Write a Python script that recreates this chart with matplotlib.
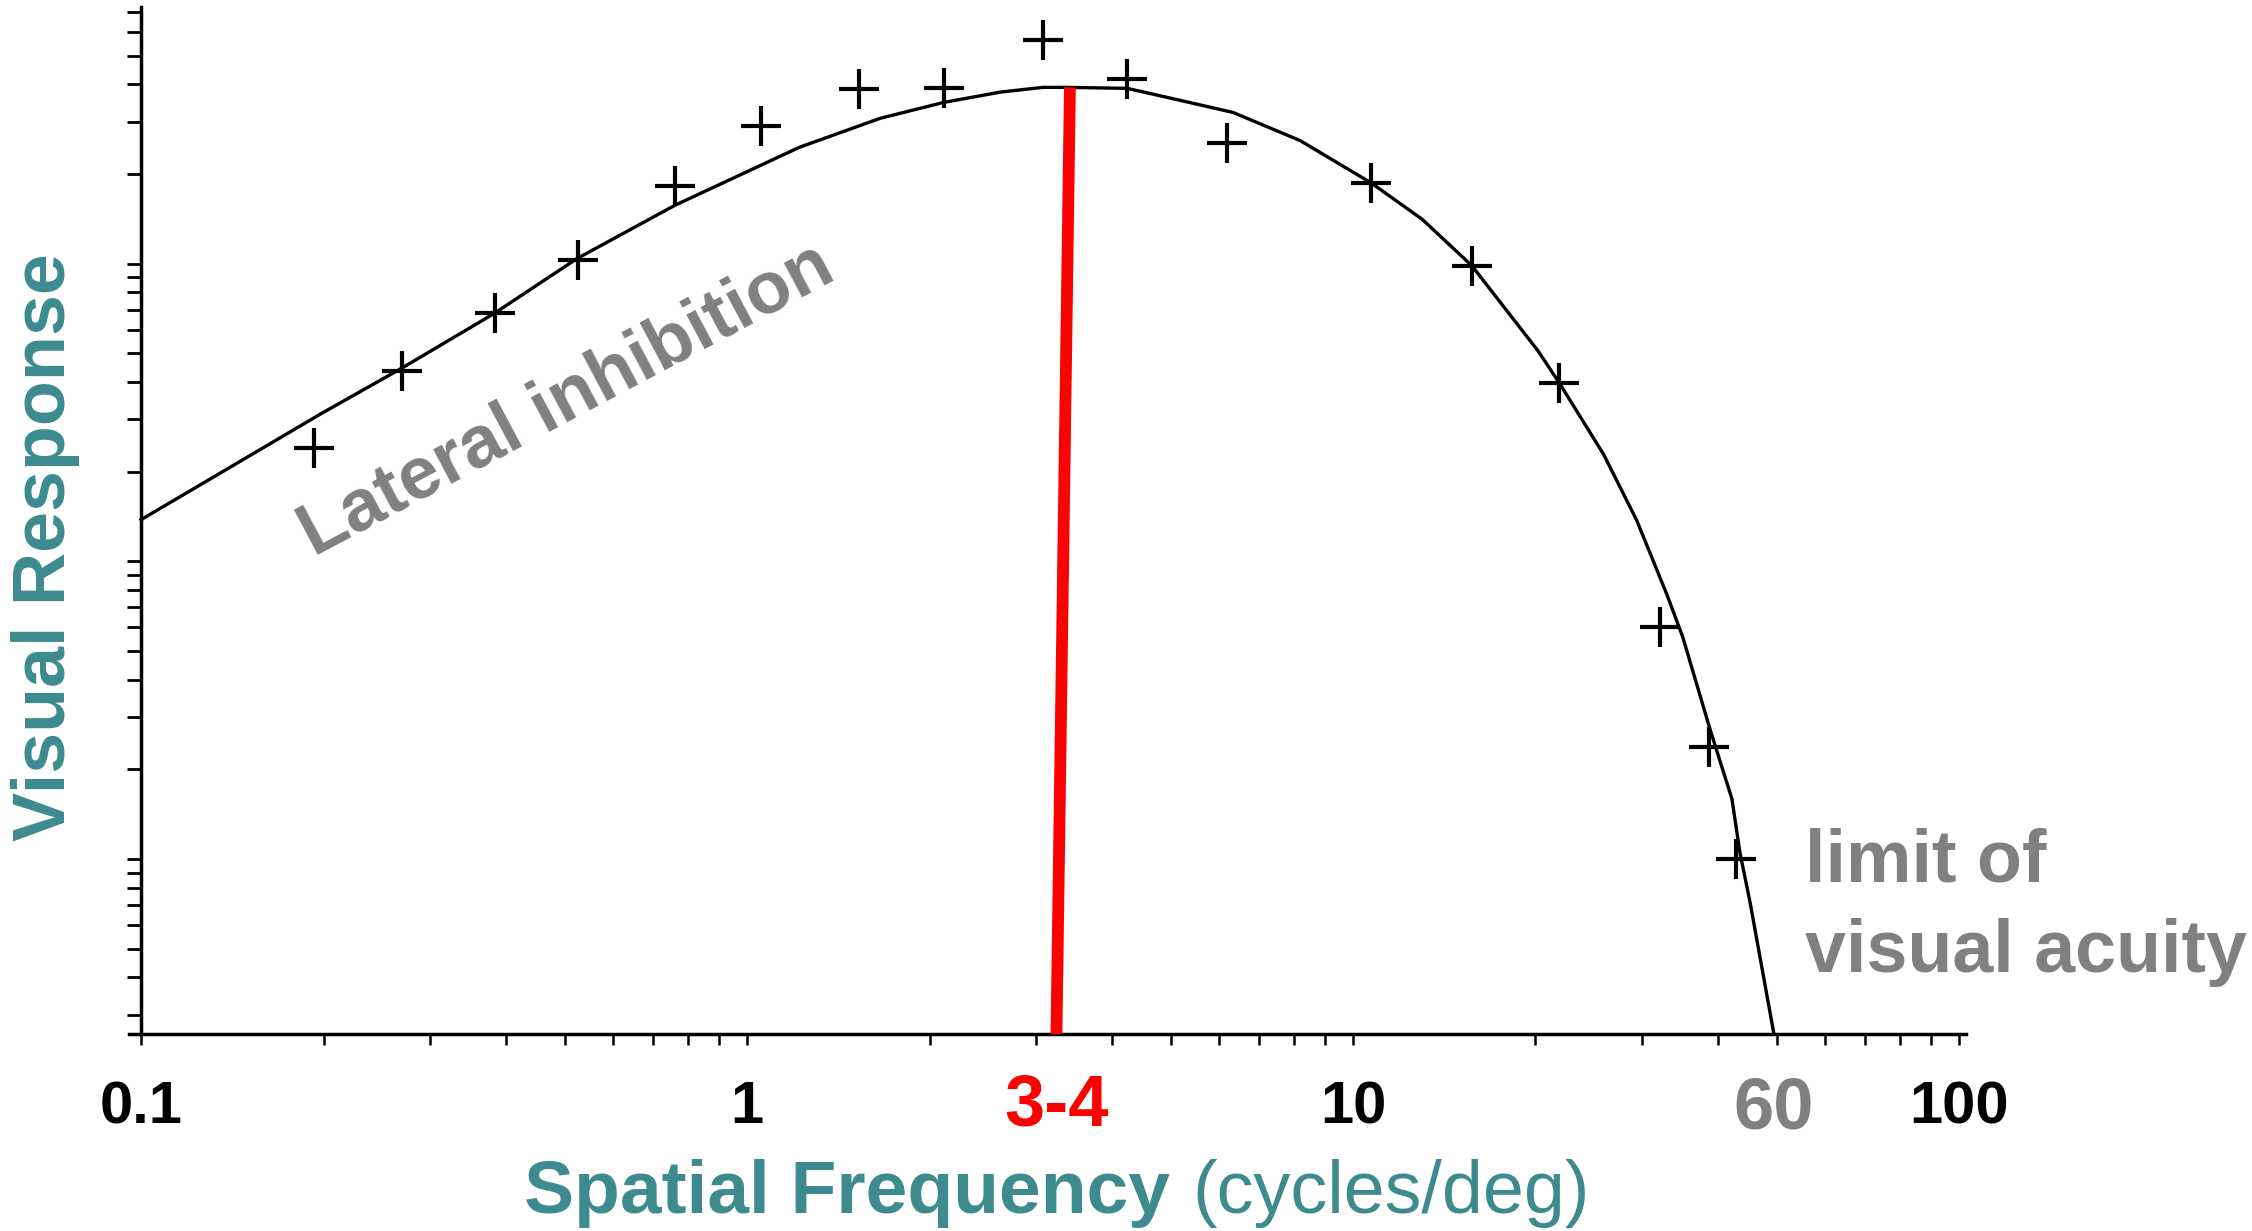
import matplotlib
matplotlib.use("Agg")
import matplotlib.pyplot as plt
import numpy as np
from matplotlib.ticker import LogLocator, NullFormatter, NullLocator

# measured points (cycles/deg, response)
freq_pts = [0.193, 0.269, 0.384, 0.526, 0.760, 1.054, 1.53, 2.11, 3.08,
            4.24, 6.19, 10.7, 15.7, 21.9, 32.1, 38.7, 42.8]
resp_pts = [24.0, 43.6, 68.4, 103, 183, 289, 385, 388, 563,
            417, 255, 187, 98.5, 39.7, 6.0, 2.38, 1.0]

# fitted curve
curve_freq = [0.1, 0.198, 0.270, 0.382, 0.524, 0.760, 1.22, 1.66, 2.11, 2.62,
              3.08, 3.37, 4.24, 4.93, 6.34, 8.18, 10.7, 13.0, 15.7, 20.2,
              21.9, 25.9, 29.4, 33.0, 35.0, 38.8, 42.2, 43.5, 45.2, 49.5]
curve_resp = [13.8, 31.3, 44.7, 67.9, 104, 157, 246, 308, 348, 377,
              391, 391, 388, 362, 322, 259, 187, 141, 98.5, 50.9,
              39.7, 22.9, 13.7, 7.68, 5.57, 2.74, 1.59, 1.05, 0.716, 0.258]

# red peak marker
peak_freq = [3.24, 3.41]
peak_resp = [0.258, 391]
acuity_limit = 49.5

xtick_vals = [0.1, 1, 10, 100]
xtick_labels = ["0.1", "1", "10", "100"]

TEAL = "#3d8b8f"
GRAY = "#808080"

plt.rcParams["font.family"] = ["Liberation Sans", "DejaVu Sans"]

fig = plt.figure(figsize=(22.52, 12.31), dpi=100)
ax = fig.add_axes([0.0573, 0.16, 0.8157, 0.8343])
ax.set_xscale("log")
ax.set_yscale("log")
ax.set_xlim(0.0955, 102.7)
ax.set_ylim(0.258, 728)

ax.plot(curve_freq, curve_resp, color="black", lw=2.4, zorder=3)
ax.plot(freq_pts, resp_pts, linestyle="none", marker="+", ms=29, mew=3,
        color="black", zorder=4)
ax.plot(peak_freq, peak_resp, color="red", lw=8.5, solid_capstyle="butt", zorder=5)

# axes styling
for s in ["top", "right"]:
    ax.spines[s].set_visible(False)
ax.spines["left"].set_position(("data", 0.1))
ax.spines["left"].set_linewidth(2.5)
ax.spines["bottom"].set_linewidth(2.5)

ax.set_xticks(xtick_vals)
ax.xaxis.set_minor_locator(LogLocator(base=10, subs=np.arange(2, 10), numticks=50))
ax.xaxis.set_major_formatter(NullFormatter())
ax.xaxis.set_minor_formatter(NullFormatter())
ax.yaxis.set_major_locator(LogLocator(base=10, subs=np.arange(1, 10), numticks=50))
ax.yaxis.set_minor_locator(NullLocator())
ax.yaxis.set_major_formatter(NullFormatter())
ax.tick_params(axis="x", which="both", direction="out", length=8, width=1.8)
ax.tick_params(axis="y", which="both", direction="out", length=10, width=2)

# tick labels
xt = ax.get_xaxis_transform()
for v, lab in zip(xtick_vals, xtick_labels):
    ax.text(v, -0.0867, lab, transform=xt, ha="center", va="baseline",
            fontsize=43, fontweight="bold", color="black")
ax.text(peak_freq[0], -0.0886, "3-4", transform=xt, ha="center", va="baseline",
        fontsize=52, fontweight="bold", color="red")
ax.text(acuity_limit, -0.0915, "60", transform=xt, ha="center", va="baseline",
        fontsize=52, fontweight="bold", color=GRAY)

# axis titles
fig.text(524 / 2252, 18 / 1231, "Spatial Frequency", fontsize=54,
         fontweight="bold", color=TEAL, ha="left", va="baseline")
fig.text(1192 / 2252, 18 / 1231, "(cycles/deg)", fontsize=53,
         color=TEAL, ha="left", va="baseline")
fig.text(65 / 2252, 1 - 547 / 1231, "Visual Response", fontsize=53,
         fontweight="bold", color=TEAL, rotation=90, rotation_mode="anchor",
         ha="center", va="baseline")

# annotations
fig.text(567 / 2252, 1 - 400 / 1231, "Lateral inhibition", fontsize=53,
         fontweight="bold", color=GRAY, rotation=28, rotation_mode="anchor",
         ha="center", va="center")
fig.text(1805 / 2252, 1 - 882 / 1231, "limit of", fontsize=53,
         fontweight="bold", color=GRAY, ha="left", va="baseline")
fig.text(1805 / 2252, 1 - 972 / 1231, "visual acuity", fontsize=53,
         fontweight="bold", color=GRAY, ha="left", va="baseline")

fig.savefig("out.png", dpi=100, facecolor="white")
